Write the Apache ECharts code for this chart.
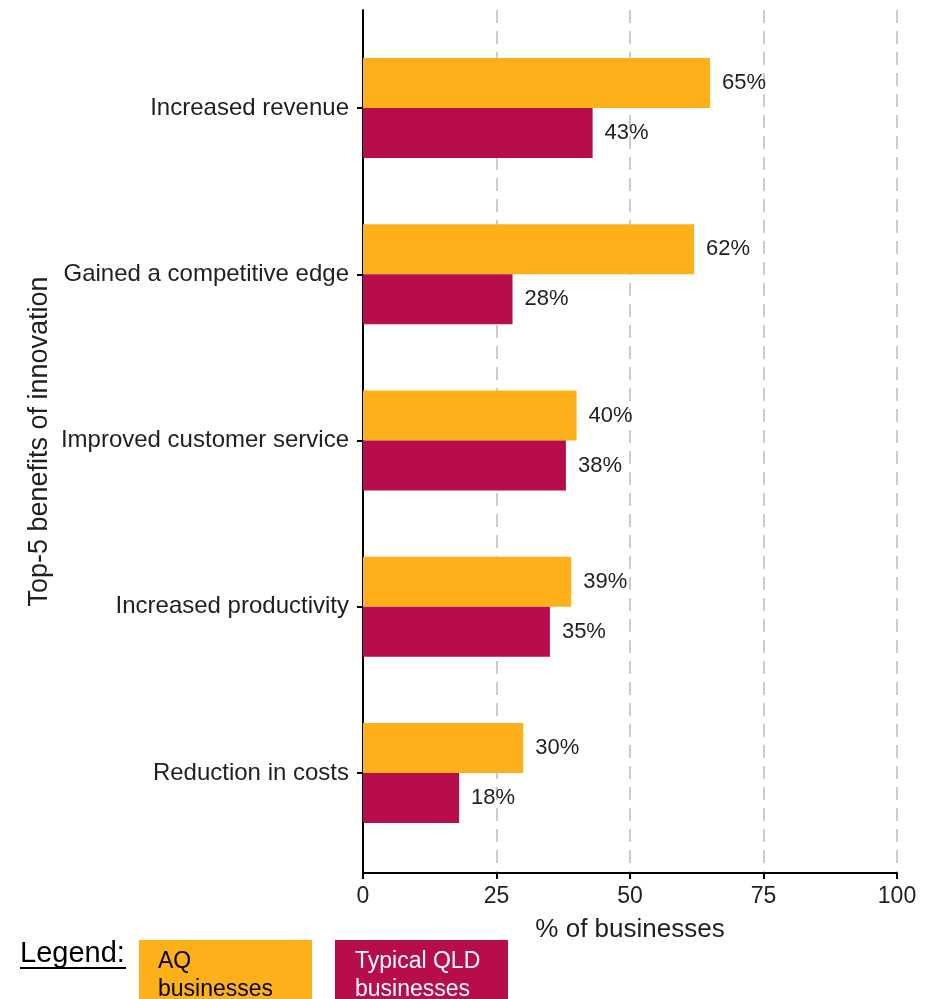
<!DOCTYPE html>
<html>
<head>
<meta charset="utf-8">
<script src="https://cdn.jsdelivr.net/npm/echarts@6/dist/echarts.min.js"></script>
<style>
  html, body { margin: 0; padding: 0; background: #ffffff; }
  #chart { width: 938px; height: 999px; }
</style>
</head>
<body>
<div id="chart"></div>
<script>
// Benefits of innovation, two business groups
const categories = [
  'Increased revenue',
  'Gained a competitive edge',
  'Improved customer service',
  'Increased productivity',
  'Reduction in costs'
];
const aqValues = [65, 62, 40, 39, 30];
const qldValues = [43, 28, 38, 35, 18];
const seriesNames = ['AQ businesses', 'Typical QLD businesses'];
const xTicks = [0, 25, 50, 75, 100];

const FONT = '"Liberation Sans", Arial, sans-serif';
const ORANGE = '#FDB01A';
const CRIMSON = '#B80D4C';
const TEXT = '#1f1f1f';

const chart = echarts.init(document.getElementById('chart'), null, { renderer: 'canvas' });

const barLabel = {
  show: true,
  position: 'right',
  distance: 12,
  formatter: p => p.value + '%',
  fontFamily: FONT,
  fontSize: 22,
  color: TEXT
};

chart.setOption({
  animation: false,
  backgroundColor: '#ffffff',
  textStyle: { fontFamily: FONT },
  grid: [
    // bars: category bands (panel inset by the discrete-axis expansion)
    { left: 363, right: 41, top: 25, bottom: 143 },
    // full panel: axis lines, ticks and dashed guides
    { left: 363, right: 41, top: 10, bottom: 126 }
  ],
  xAxis: [
    { gridIndex: 0, type: 'value', min: 0, max: 100, show: false },
    {
      gridIndex: 1, type: 'value', min: xTicks[0], max: xTicks[xTicks.length - 1], interval: 25,
      name: '% of businesses',
      nameLocation: 'middle',
      nameGap: 44,
      nameTextStyle: { fontFamily: FONT, fontSize: 26, color: TEXT },
      axisLine: { show: true, lineStyle: { color: '#000', width: 2 } },
      axisTick: { show: true, length: 6, lineStyle: { color: '#000', width: 2 } },
      axisLabel: { fontFamily: FONT, fontSize: 23, color: TEXT, margin: 12 },
      splitLine: { show: true, lineStyle: { color: '#cccccc', width: 2, type: [13, 8] } }
    }
  ],
  yAxis: [
    {
      gridIndex: 0, type: 'category', data: categories, inverse: true,
      axisLine: { show: false },
      axisTick: { show: true, alignWithLabel: true, length: 6, lineStyle: { color: '#000', width: 2 } },
      axisLabel: { fontFamily: FONT, fontSize: 24, color: TEXT, margin: 14, padding: [4, 0, 0, 0] },
      splitLine: { show: false }
    },
    {
      gridIndex: 1, type: 'value', min: 0, max: 1,
      name: 'Top-5 benefits of innovation',
      nameLocation: 'middle',
      nameGap: 310,
      nameRotate: 90,
      nameTextStyle: { fontFamily: FONT, fontSize: 27, color: TEXT },
      axisLine: { show: true, lineStyle: { color: '#000', width: 2 } },
      axisTick: { show: false },
      axisLabel: { show: false },
      splitLine: { show: false }
    }
  ],
  series: [
    {
      name: seriesNames[0], type: 'bar', xAxisIndex: 0, yAxisIndex: 0,
      data: aqValues, barWidth: 50, barGap: '0%',
      itemStyle: { color: ORANGE },
      label: barLabel
    },
    {
      name: seriesNames[1], type: 'bar', xAxisIndex: 0, yAxisIndex: 0,
      data: qldValues, barWidth: 50, barGap: '0%',
      itemStyle: { color: CRIMSON },
      label: barLabel
    }
  ],
  graphic: [
    {
      type: 'text', left: 20, top: 939,
      style: { text: 'Legend:', fontFamily: FONT, fontSize: 29, fill: '#000' }
    },
    {
      type: 'line',
      shape: { x1: 20, y1: 968, x2: 126, y2: 968 },
      style: { stroke: '#000', lineWidth: 2 }
    },
    {
      type: 'rect', shape: { x: 139, y: 940, width: 173, height: 70 },
      style: { fill: ORANGE }
    },
    {
      type: 'text', left: 158, top: 948,
      style: { text: 'AQ\nbusinesses', fontFamily: FONT, fontSize: 23, lineHeight: 28, fill: '#000' }
    },
    {
      type: 'rect', shape: { x: 335, y: 940, width: 173, height: 70 },
      style: { fill: CRIMSON }
    },
    {
      type: 'text', left: 355, top: 948,
      style: { text: 'Typical QLD\nbusinesses', fontFamily: FONT, fontSize: 23, lineHeight: 28, fill: '#ffffff' }
    }
  ]
});
</script>
</body>
</html>
